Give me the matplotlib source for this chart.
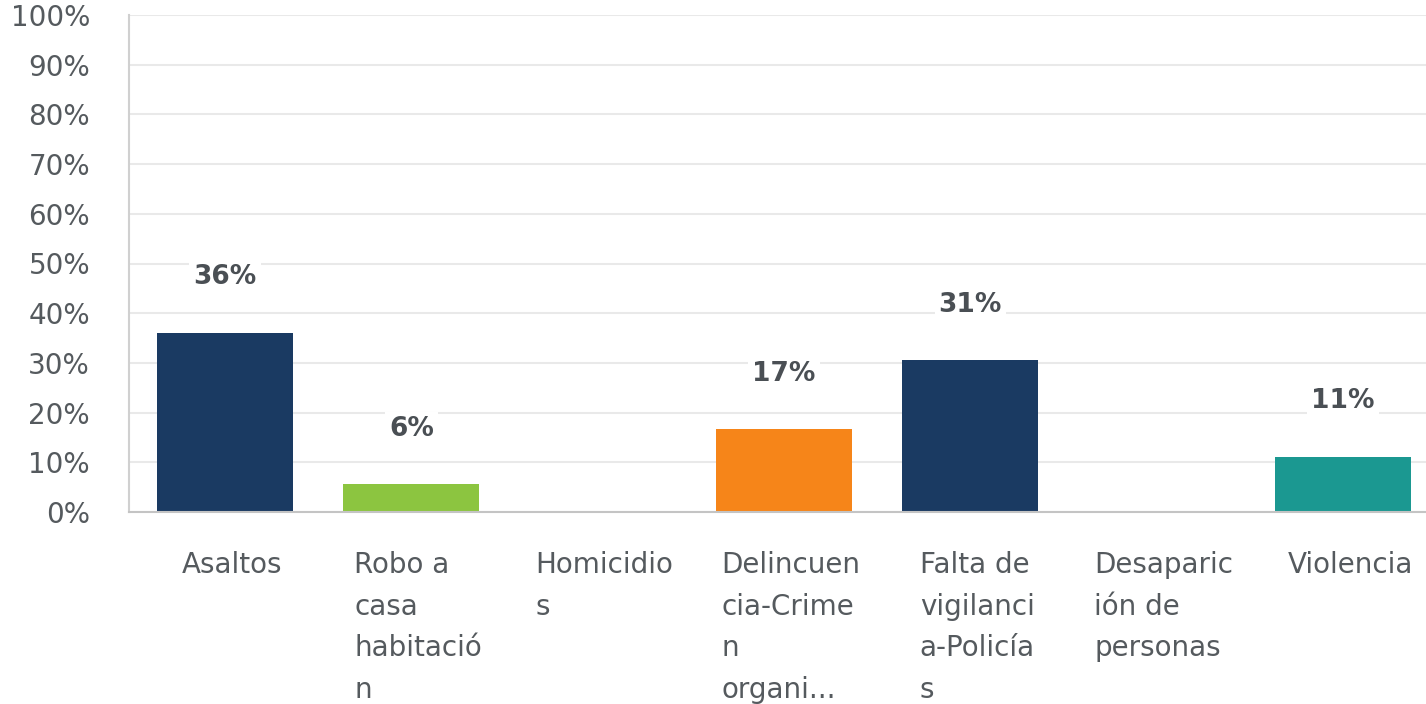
"""Bar chart of security problems (SurveyMonkey-style)"""
import matplotlib
matplotlib.use('Agg')
import matplotlib.pyplot as plt
import matplotlib.transforms as mtransforms
import numpy as np

plt.rcParams['font.family'] = ['DejaVu Sans']

categories = ['Asaltos', 'Robo a\ncasa\nhabitació\nn', 'Homicidio\ns',
              'Delincuen\ncia-Crime\nn\norgani...', 'Falta de\nvigilanci\na-Policía\ns',
              'Desaparic\nión de\npersonas', 'Violencia']
values = [36.11, 5.56, 0.0, 16.67, 30.56, 0.0, 11.11]
value_labels = ['36%', '6%', '', '17%', '31%', '', '11%']
bar_colors = ['#1a3a62', '#8cc540', '#1a3a62', '#f68519', '#1a3a62', '#1a3a62', '#1b9891']
y_ticks = list(range(0, 101, 10))

fig = plt.figure(figsize=(14.26, 7.04), dpi=100)
ax = fig.add_axes([129 / 1426, 192 / 704, 1 - 129 / 1426, 497 / 704])

x = np.arange(len(categories))
ax.bar(x, values, width=0.73, color=bar_colors, zorder=2)

ax.set_xlim(-0.515, 6.445)
ax.set_ylim(0, 100)
ax.set_yticks(y_ticks)
ax.set_yticklabels([f'{t}%' for t in y_ticks])
ax.yaxis.grid(True, color='#e9e9e9', linewidth=1.5, zorder=0)
ax.set_axisbelow(True)

for side in ['top', 'right']:
    ax.spines[side].set_visible(False)
ax.spines['left'].set_color('#d0d0d0')
ax.spines['left'].set_linewidth(1.5)
ax.spines['bottom'].set_color('#c4c4c4')
ax.spines['bottom'].set_linewidth(1.5)

ax.tick_params(axis='y', length=0, pad=28, labelsize=20, labelcolor='#555a5e')
ax.tick_params(axis='x', length=0, pad=28, labelsize=20, labelcolor='#555a5e')
ax.set_xticks(x)
ax.set_xticklabels(categories, ha='center', multialignment='left', linespacing=1.62)
shift = mtransforms.ScaledTranslation(7 / 100, 0, fig.dpi_scale_trans)
for lbl in ax.get_xticklabels():
    lbl.set_transform(lbl.get_transform() + shift)

# etiquetas de valor
for xi, v, txt in zip(x, values, value_labels):
    if not txt:
        continue
    ax.annotate(txt, xy=(xi, v), xytext=(0, 40), textcoords='offset points',
                ha='center', va='center', fontsize=19, fontweight='bold',
                color='#4a4f54', zorder=3,
                bbox=dict(boxstyle='square,pad=0.15', fc='white', ec='none'))

plt.savefig('out.png', dpi=100)
plt.close()
